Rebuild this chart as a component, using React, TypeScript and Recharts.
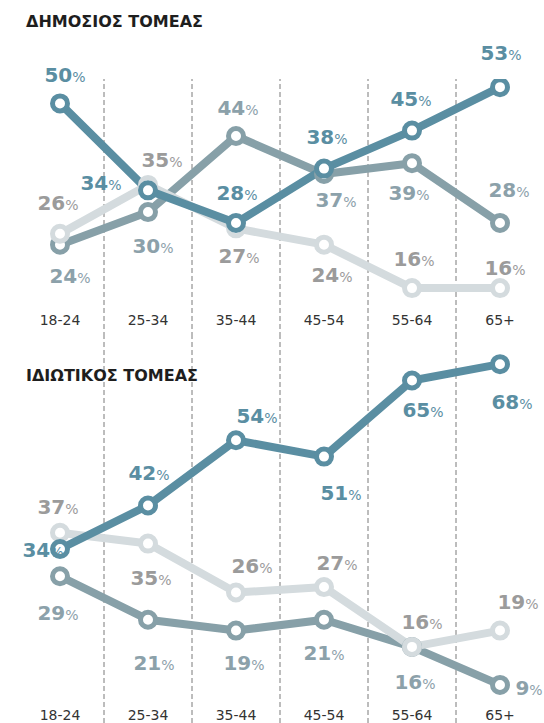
import { LineChart, Line, XAxis, YAxis, ReferenceLine, LabelList } from "recharts";

const ageGroups = ["18-24", "25-34", "35-44", "45-54", "55-64", "65+"];

// ΔΗΜΟΣΙΟΣ ΤΟΜΕΑΣ
const publicDark = [50, 34, 28, 38, 45, 53];
const publicMid = [24, 30, 44, 37, 39, 28];
const publicLight = [26, 35, 27, 24, 16, 16];

// ΙΔΙΩΤΙΚΟΣ ΤΟΜΕΑΣ
const privateDark = [34, 42, 54, 51, 65, 68];
const privateMid = [29, 21, 19, 21, 16, 9];
const privateLight = [37, 35, 26, 27, 16, 19];

// label placement (offset of label centre from the point)
const publicDarkPos = [[5, -28], [-47, -7], [1, -30], [3, -32], [-1, -32], [1, -34]];
const publicMidPos = [[10, 31], [5, 34], [2, -28], [12, 26], [-3, 30], [9, -33]];
const publicLightPos = [[-2, -31], [14, -25], [3, 28], [8, 30], [2, -29], [5, -20]];
const privateDarkPos = [[-17, 1], [1, -33], [21, -24], [17, 36], [11, 30], [12, 38]];
const privateMidPos = [[-2, 37], [6, 43], [8, 32], [0, 33], [3, 35], [29, 3]];
const privateLightPos = [[-2, -26], [3, 34], [16, -27], [13, -24], [10, -25], [18, -29]];

const DARK = "#5a8ea2";
const MID = "#87a0a8";
const LIGHT = "#d4dbde";
const FONT = "DejaVu Sans";

const dividers = ageGroups.slice(1).map((_, i) => i + 0.5);
const tickIdx = ageGroups.map((_, i) => i);

const makeRows = (dark: number[], mid: number[], light: number[]) =>
  ageGroups.map((age, i) => ({ idx: i, age, dark: dark[i], mid: mid[i], light: light[i] }));

const pctLabel = (pos: number[][], color: string) => (props: any) => {
  const { x, y, value, index } = props;
  const [dx, dy] = pos[index];
  return (
    <text x={x + dx} y={y + dy + 7} textAnchor="middle" fill={color} fontFamily={FONT}>
      <tspan fontSize={20} fontWeight="bold">{value}</tspan>
      <tspan fontSize={14}>%</tspan>
    </text>
  );
};

const AgeTick = (props: any) => {
  const { x, y, payload, lift } = props;
  return (
    <text x={x} y={y - lift} textAnchor="middle" fontSize={14} fill="#333" fontFamily={FONT}>
      {ageGroups[payload.value]}
    </text>
  );
};

interface PanelProps {
  rows: ReturnType<typeof makeRows>;
  height: number;
  top: number;
  domain: [number, number];
  lift: number;
  pos: { dark: number[][]; mid: number[][]; light: number[][] };
}

const Panel = ({ rows, height, top, domain, lift, pos }: PanelProps) => {
  const dot = (c: string) => ({ r: 7.5, fill: "#fff", stroke: c, strokeWidth: 5 });
  return (
    <LineChart width={544} height={height} data={rows} margin={{ top, right: 0, bottom: 0, left: 16 }}>
      <XAxis
        type="number"
        dataKey="idx"
        domain={[-0.5, 5.5]}
        ticks={tickIdx}
        interval={0}
        mirror
        axisLine={false}
        tickLine={false}
        tickSize={0}
        tickMargin={0}
        tick={(p: any) => <AgeTick {...p} lift={lift} />}
      />
      <YAxis hide type="number" domain={domain} allowDataOverflow />
      {dividers.map((d) => (
        <ReferenceLine key={d} x={d} stroke="#7a7a7a" strokeDasharray="5 3" />
      ))}
      {/* labels sit underneath the lines */}
      <Line dataKey="mid" stroke="none" dot={false} activeDot={false} isAnimationActive={false}>
        <LabelList dataKey="mid" content={pctLabel(pos.mid, "#8ca1aa")} />
      </Line>
      <Line dataKey="light" stroke="none" dot={false} activeDot={false} isAnimationActive={false}>
        <LabelList dataKey="light" content={pctLabel(pos.light, "#9b9b9b")} />
      </Line>
      <Line dataKey="dark" stroke="none" dot={false} activeDot={false} isAnimationActive={false}>
        <LabelList dataKey="dark" content={pctLabel(pos.dark, DARK)} />
      </Line>
      <Line dataKey="mid" stroke={MID} strokeWidth={8} strokeLinejoin="round" dot={dot(MID)} activeDot={false} isAnimationActive={false} />
      <Line dataKey="light" stroke={LIGHT} strokeWidth={8} strokeLinejoin="round" dot={dot(LIGHT)} activeDot={false} isAnimationActive={false} />
      <Line dataKey="dark" stroke={DARK} strokeWidth={8} strokeLinejoin="round" dot={dot(DARK)} activeDot={false} isAnimationActive={false} />
    </LineChart>
  );
};

const titleStyle = {
  position: "absolute" as const,
  left: 26,
  fontFamily: FONT,
  fontWeight: "bold",
  fontSize: 16,
  lineHeight: "16px",
  color: "#1e1e1e",
};

export default function App() {
  return (
    <div style={{ position: "relative", width: 544, height: 723, background: "#fff" }}>
      <style>{"body{margin:0}"}</style>
      <Panel
        rows={makeRows(publicDark, publicMid, publicLight)}
        height={337}
        top={79}
        domain={[7, 54.5]}
        lift={12}
        pos={{ dark: publicDarkPos, mid: publicMidPos, light: publicLightPos }}
      />
      <Panel
        rows={makeRows(privateDark, privateMid, privateLight)}
        height={386}
        top={0}
        domain={[2, 73]}
        lift={3}
        pos={{ dark: privateDarkPos, mid: privateMidPos, light: privateLightPos }}
      />
      <div style={{ ...titleStyle, top: 14 }}>ΔΗΜΟΣΙΟΣ ΤΟΜΕΑΣ</div>
      <div style={{ ...titleStyle, top: 368 }}>ΙΔΙΩΤΙΚΟΣ ΤΟΜΕΑΣ</div>
    </div>
  );
}
